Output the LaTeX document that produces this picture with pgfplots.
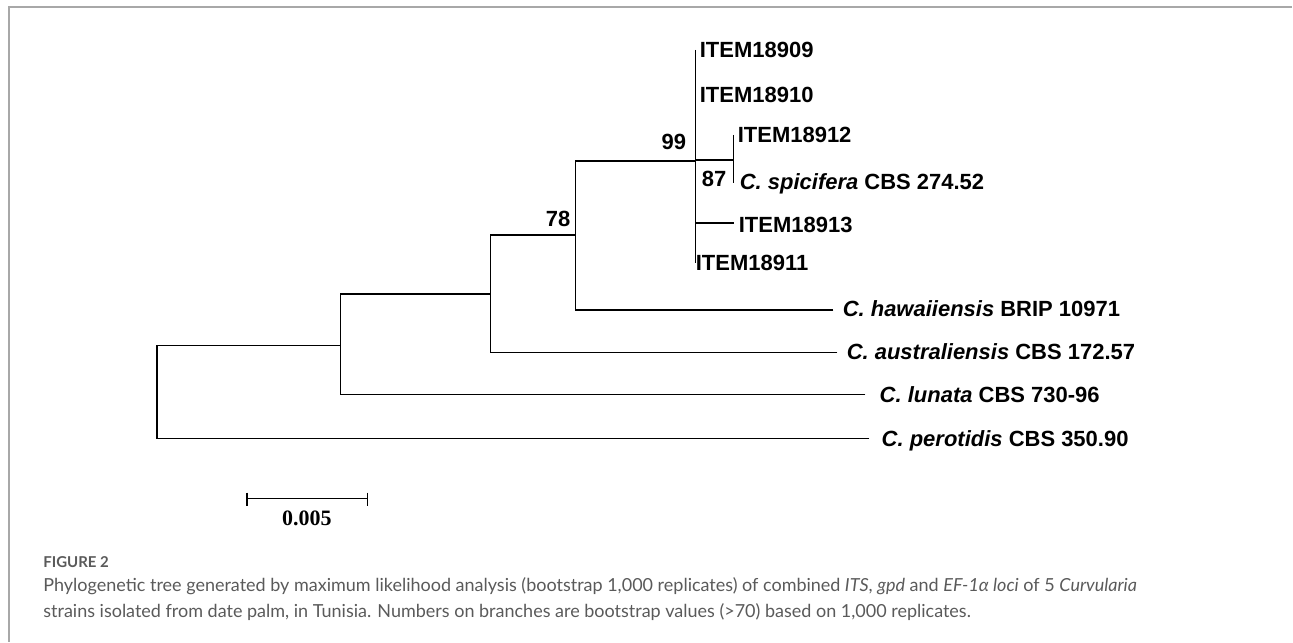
\documentclass[border=0pt]{standalone}
\usepackage{fontspec}
\setmainfont{Liberation Sans}
\newfontfamily\capfont{Lato}
\newfontfamily\serifb{Liberation Serif}
\usepackage{pgfplots}
\pgfplotsset{compat=1.18}
\definecolor{framegray}{HTML}{A8A8A8}
\definecolor{capgray}{HTML}{5A5A5A}
\begin{document}
\begin{tikzpicture}
\begin{axis}[
  x=0.5pt, y=0.5pt, y dir=reverse,
  xmin=0, xmax=1293, ymin=0, ymax=642,
  hide axis, clip=false, scale only axis,
]
\path (axis cs:0,0) rectangle (axis cs:1293,642);
% frame
\addplot[framegray, line width=1pt, forget plot] coordinates {(9,642) (9,7) (1293,7)};
% tree
\addplot[black, line width=0.75pt] coordinates {(870,439) (157,439) (157,346) (341,346)};
\addplot[black, line width=0.75pt] coordinates {(866,395) (341,395) (341,294) (491,294)};
\addplot[black, line width=0.75pt] coordinates {(838,353) (491,353) (491,235) (576,235)};
\addplot[black, line width=0.75pt] coordinates {(834,310) (576,310) (576,161) (696,161)};
\addplot[black, line width=0.75pt] coordinates {(696,50) (696,263)};
\addplot[black, line width=0.75pt] coordinates {(696,160) (734,160)};
\addplot[black, line width=0.75pt] coordinates {(734,135) (734,183)};
\addplot[black, line width=0.75pt] coordinates {(696,223) (735,223)};
% scale bar
\addplot[black, line width=0.75pt] coordinates {(247,499) (368,499)};
\addplot[black, line width=0.75pt] coordinates {(247,493) (247,506)};
\addplot[black, line width=0.75pt] coordinates {(368,493) (368,506)};
% tip labels
\begin{scope}[every node/.style={inner sep=0pt, anchor=base west, font=\fontsize{11}{13}\selectfont\bfseries}]
\node at (axis cs:700,58) {ITEM18909};
\node at (axis cs:700,103) {ITEM18910};
\node at (axis cs:738,143) {ITEM18912};
\node at (axis cs:740,190) {\textit{C. spicifera} CBS 274.52};
\node at (axis cs:739,233) {ITEM18913};
\node at (axis cs:696,271) {ITEM18911};
\node at (axis cs:843,317) {\textit{C. hawaiiensis} BRIP 10971};
\node at (axis cs:847,360) {\textit{C. australiensis} CBS 172.57};
\node at (axis cs:880,403) {\textit{C. lunata} CBS 730-96};
\node at (axis cs:882,447) {\textit{C. perotidis} CBS 350.90};
\end{scope}
% bootstrap values
\begin{scope}[every node/.style={inner sep=0pt, font=\fontsize{11}{13}\selectfont\bfseries}]
\node[anchor=base east] at (axis cs:687,150) {99};
\node[anchor=base west] at (axis cs:702,187) {87};
\node[anchor=base west] at (axis cs:546,227) {78};
\node[anchor=base, font=\serifb\fontsize{11}{13}\selectfont\bfseries] at (axis cs:307,526) {0.005};
\end{scope}
% caption
\node[inner sep=0pt, anchor=base west, text=capgray, font=\capfont\fontsize{7.5}{9}\selectfont\bfseries] at (axis cs:43,568) {FIGURE 2};
\node[inner sep=0pt, anchor=base west, text=capgray, font=\capfont\fontsize{9}{11}\selectfont] at (axis cs:43,592) {Phylogenetic tree generated by maximum likelihood analysis (bootstrap 1,000 replicates) of combined \textit{ITS}, \textit{gpd} and \textit{EF-1α loci} of 5 \textit{Curvularia}};
\node[inner sep=0pt, anchor=base west, text=capgray, font=\capfont\fontsize{9}{11}\selectfont] at (axis cs:43,618) {strains isolated from date palm, in Tunisia. Numbers on branches are bootstrap values (>70) based on 1,000 replicates.};
\end{axis}
\end{tikzpicture}
\end{document}
